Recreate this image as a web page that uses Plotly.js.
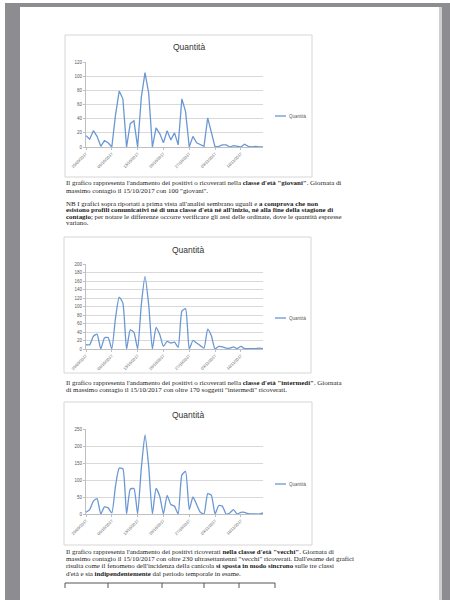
<!DOCTYPE html>
<html><head><meta charset="utf-8">
<script src="https://cdn.plot.ly/plotly-3.0.1.min.js"></script>
<style>html,body{margin:0;padding:0;background:#fff}#c{width:450px;height:600px}</style>
</head><body><div id="c"></div>
<script>
// Categories: daily dates
const dates = ['29/09/2017','30/09/2017','01/10/2017','02/10/2017','03/10/2017','04/10/2017','05/10/2017',
'06/10/2017','07/10/2017','08/10/2017','09/10/2017','10/10/2017','11/10/2017','12/10/2017',
'13/10/2017','14/10/2017','15/10/2017','16/10/2017','17/10/2017','18/10/2017','19/10/2017',
'20/10/2017','21/10/2017','22/10/2017','23/10/2017','24/10/2017','25/10/2017','26/10/2017',
'27/10/2017','28/10/2017','29/10/2017','30/10/2017','31/10/2017','01/11/2017','02/11/2017',
'03/11/2017','04/11/2017','05/11/2017','06/11/2017','07/11/2017','08/11/2017','09/11/2017',
'10/11/2017','11/11/2017','12/11/2017','13/11/2017','14/11/2017','15/11/2017','16/11/2017'];
const tickDates = ['29/09/2017','06/10/2017','13/10/2017','20/10/2017','27/10/2017','03/11/2017','10/11/2017'];

const giovani = [16,11,23,15,1,9,6,0,45,79,68,0,33,37,0,70,105,76,0,27,19,6,23,10,20,3,68,50,0,15,6,3,1,41,22,0,1,3,3,0,2,1,0,4,1,0,1,0,0];
const intermedi = [10,10,30,35,0,26,27,0,73,122,108,0,45,39,0,104,171,104,0,51,34,6,18,14,16,4,89,95,0,20,14,8,2,47,31,0,6,5,2,2,5,1,6,1,1,1,1,2,1];
const vecchi = [5,13,38,45,0,21,18,3,82,135,133,0,73,75,0,135,233,140,0,75,52,0,55,28,23,0,115,125,13,50,28,5,0,60,55,0,25,23,0,3,13,0,5,5,1,0,0,0,3];

const seriesName = 'Quantità';
const chartTitle = 'Quantità';
const yMax = [120, 200, 250];
const yStep = [20, 20, 50];

const W = 450, H = 600;
const px = x => x / W, py = y => 1 - y / H;

// page geometry (pixels)
const boxes = [[65,35,312,177],[64,237,311,373],[64,402,312,545]];
const plots = [[86,62,263,147],[86,264,263,349],[86,429,263,514]];
const titlesY = [47, 250, 415];
const legendY = [116, 318, 484];

const lineColor = '#6a98d4';
const data = [giovani, intermedi, vecchi].map((vals, i) => ({
  type: 'scatter', mode: 'lines', x: dates, y: vals, name: seriesName,
  xaxis: i ? 'x' + (i + 1) : 'x', yaxis: i ? 'y' + (i + 1) : 'y',
  line: {color: lineColor, width: 1.3, shape: i === 0 ? 'linear' : 'spline', smoothing: 0.5},
  showlegend: false, hoverinfo: 'skip'
}));

const layout = {
  width: W, height: H, margin: {l: 0, r: 0, t: 0, b: 0},
  paper_bgcolor: '#ffffff', plot_bgcolor: 'rgba(0,0,0,0)',
  showlegend: false, shapes: [], annotations: []
};

// page background
layout.shapes.push({type:'rect', xref:'paper', yref:'paper', x0:px(5), x1:1, y0:0, y1:py(3), fillcolor:'#8d8c91', line:{width:0}, layer:'below'});
layout.shapes.push({type:'rect', xref:'paper', yref:'paper', x0:px(20), x1:px(442), y0:0, y1:py(7), fillcolor:'#cfcfd1', line:{width:0}, layer:'below'});
layout.shapes.push({type:'rect', xref:'paper', yref:'paper', x0:px(20), x1:px(439), y0:0, y1:py(7), fillcolor:'#ffffff', line:{width:0}, layer:'below'});

boxes.forEach(b => layout.shapes.push({type:'rect', xref:'paper', yref:'paper', x0:px(b[0]), x1:px(b[2]), y0:py(b[3]), y1:py(b[1]), fillcolor:'#ffffff', line:{color:'#d6d6d6', width:1}, layer:'below'}));

plots.forEach((p, i) => {
  const sx = i ? String(i + 1) : '';
  layout['xaxis' + sx] = {
    domain: [px(p[0]), px(p[2])], anchor: 'y' + sx, type: 'category',
    range: [0, dates.length - 1], tickvals: tickDates, ticktext: tickDates,
    tickangle: -45, tickfont: {family: 'Liberation Sans', size: 4, color: '#595959'},
    showline: true, linecolor: '#bfbfbf', linewidth: 1, ticks: 'outside', ticklen: 2, tickcolor: '#bfbfbf',
    showgrid: false, zeroline: false, fixedrange: true
  };
  layout['yaxis' + sx] = {
    domain: [py(p[3]), py(p[1])], anchor: 'x' + sx,
    range: [0, yMax[i]], dtick: yStep[i], tick0: 0,
    tickfont: {family: 'Liberation Sans', size: 4.5, color: '#595959'},
    showgrid: true, gridcolor: '#d9d9d9', gridwidth: 1,
    showline: true, linecolor: '#bfbfbf', ticks: 'outside', ticklen: 2, tickcolor: '#bfbfbf',
    zeroline: false, fixedrange: true
  };
  // title
  layout.annotations.push({xref:'paper', yref:'paper', x:px((boxes[i][0]+boxes[i][2])/2), y:py(titlesY[i]), text:chartTitle, showarrow:false, xanchor:'center', yanchor:'middle', font:{family:'Liberation Sans', size:8.5, color:'#333333'}});
  // legend
  layout.shapes.push({type:'line', xref:'paper', yref:'paper', x0:px(275), x1:px(286), y0:py(legendY[i]), y1:py(legendY[i]), line:{color:lineColor, width:1.3}});
  layout.annotations.push({xref:'paper', yref:'paper', x:px(287), y:py(legendY[i]), text:seriesName, showarrow:false, xanchor:'left', yanchor:'middle', font:{family:'Liberation Sans', size:4.5, color:'#595959'}});
});

// body text
const textLines = [
  [183, 'Il grafico rappresenta l\'andamento dei positivi o ricoverati nella <b>classe d\'età "giovani"</b>. Giornata di'],
  [190, 'massimo contagio il 15/10/2017 con 100 "giovani".'],
  [203, 'NB I grafici sopra riportati a prima vista all\'analisi sembrano uguali e <b>a comprova che non</b>'],
  [209.5, '<b>esistono profili comunicativi né di una classe d\'età né all\'inizio, né alla fine della stagione di</b>'],
  [216, '<b>contagio</b>; per notare le differenze occorre verificare gli assi delle ordinate, dove le quantità espresse'],
  [222.5, 'variano.'],
  [382, 'Il grafico rappresenta l\'andamento dei positivi o ricoverati nella <b>classe d\'età "intermedi"</b>. Giornata'],
  [389, 'di massimo contagio il 15/10/2017 con oltre 170 soggetti "intermedi" ricoverati.'],
  [551, 'Il grafico rappresenta l\'andamento dei positivi ricoverati <b>nella classe d\'età "vecchi"</b>. Giornata di'],
  [558, 'massimo contagio il 15/10/2017 con oltre 230 ultrasettantenni "vecchi" ricoverati. Dall\'esame dei grafici'],
  [565.5, 'risulta come il fenomeno dell\'incidenza della canicola <b>si sposta in modo sincrono</b> sulle tre classi'],
  [573, 'd\'età e sia <b>indipendentemente</b> dal periodo temporale in esame.']
];
textLines.forEach(t => layout.annotations.push({xref:'paper', yref:'paper', x:px(64), y:py(t[0]), text:t[1], showarrow:false, xanchor:'left', yanchor:'middle', font:{family:'Liberation Serif', size:6.9, color:'#222222'}}));

// table top edge at page bottom
layout.shapes.push({type:'line', xref:'paper', yref:'paper', x0:px(65), x1:px(275), y0:py(583), y1:py(583), line:{color:'#555555', width:1}});
[65,108,162,204,239,275].forEach(x => layout.shapes.push({type:'line', xref:'paper', yref:'paper', x0:px(x), x1:px(x), y0:py(583), y1:py(588), line:{color:'#555555', width:1}}));

Plotly.newPlot('c', data, layout, {staticPlot: true});
</script></body></html>
